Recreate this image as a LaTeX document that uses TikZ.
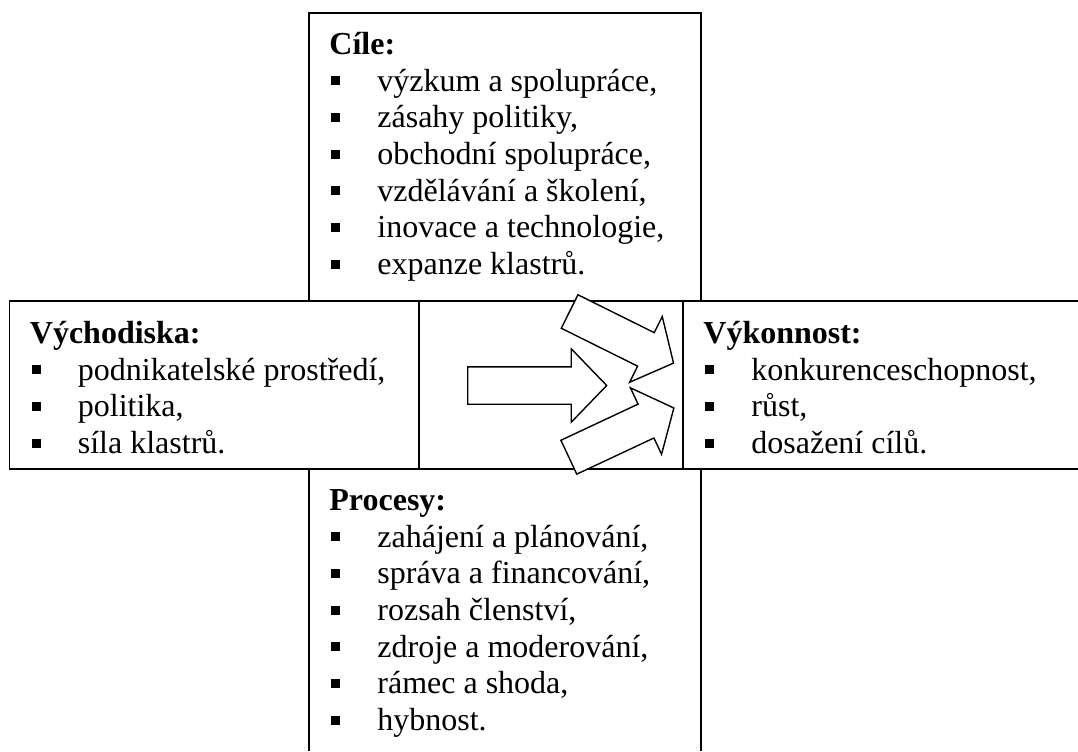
\documentclass[tikz,border=0pt]{standalone}
\usepackage{fontspec}
\setmainfont{Liberation Serif}
\usetikzlibrary{shapes.arrows}
\newcommand{\odr}[1]{\makebox[24pt][l]{\hspace{1pt}\rule[3pt]{4.5pt}{4.5pt}}#1}

\begin{document}
\begin{tikzpicture}[x=0.5pt,y=-0.5pt,
    txt/.style={anchor=north west,align=left,inner sep=0pt,font=\fontsize{16}{18.35}\selectfont},
    blokova/.style={single arrow,draw,fill=white,line width=0.7pt,inner xsep=0pt,inner ysep=9pt,
        single arrow head extend=9pt,anchor=tail}]
    \useasboundingbox (0,0) rectangle (1078,751);
    %%%%%%%%%%%%%%%%%%%%%%%%%%%%%%%%%%
    \begin{scope}[line width=0.9pt]
    \draw (309,301) -- (309,13) -- (701,13) -- (701,301); % Cile
    \draw (1078,301) -- (9.5,301) -- (9.5,469) -- (1078,469); % radek
    \draw (419,301) -- (419,469);
    \draw (683,301) -- (683,469);
    \draw (309,469) -- (309,751); % Procesy
    \draw (701,469) -- (701,751);
    \end{scope}
    %%%%%%%%%%%%%%%%%%%%%%%%%%%%%%%%%%
    \node[txt] (cile) at (329,26) {\rule{0pt}{14pt}\textbf{Cíle:}\\
        \odr{výzkum a spolupráce,}\\
        \odr{zásahy politiky,}\\
        \odr{obchodní spolupráce,}\\
        \odr{vzdělávání a školení,}\\
        \odr{inovace a technologie,}\\
        \odr{expanze klastrů.}};
    \node[txt] (vychodiska) at (29.5,315) {\rule{0pt}{14pt}\textbf{Východiska:}\\
        \odr{podnikatelské prostředí,}\\
        \odr{politika,}\\
        \odr{síla klastrů.}};
    \node[txt] (vykonnost) at (703,315) {\rule{0pt}{14pt}\textbf{Výkonnost:}\\
        \odr{konkurenceschopnost,}\\
        \odr{růst,}\\
        \odr{dosažení cílů.}};
    \node[txt] (procesy) at (329,482) {\rule{0pt}{14pt}\textbf{Procesy:}\\
        \odr{zahájení a plánování,}\\
        \odr{správa a financování,}\\
        \odr{rozsah členství,}\\
        \odr{zdroje a moderování,}\\
        \odr{rámec a shoda,}\\
        \odr{hybnost.}};
    %%%%%%%%%%%%%%%%%%%%%%%%%%%%%%%%%%
    \node[blokova,minimum height=69.5pt,single arrow tip angle=92] (sipka) at (467,385.5) {};
    \node[blokova,minimum height=58pt,single arrow tip angle=100,rotate=-26.4] (sipkaH) at (569,311.2) {};
    \node[blokova,minimum height=58pt,single arrow tip angle=100,rotate=25.1] (sipkaD) at (568.2,457.5) {};
\end{tikzpicture}
\end{document}
